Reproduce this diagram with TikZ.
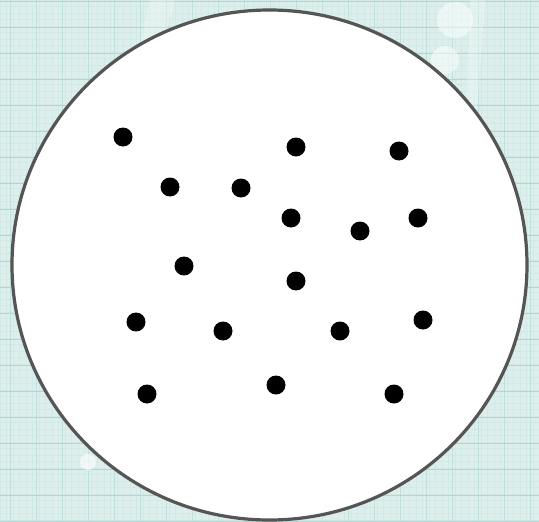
\documentclass[tikz,border=0pt]{standalone}
\definecolor{bgteal}{HTML}{DCEFEC}
\definecolor{gridteal}{HTML}{AFD8D2}
\definecolor{finegrid}{HTML}{D2E9E6}
\definecolor{rim}{HTML}{555555}
\tikzset{
  dot/.style={circle, fill=black, draw=none, minimum size=19pt, inner sep=0pt},
  rimline/.style={draw=rim, line width=3.2pt, fill=white}
}
\begin{document}
\begin{tikzpicture}[x=1pt,y=-1pt]
\useasboundingbox (0,0) rectangle (539,522);
\fill[bgteal] (0,0) rectangle (539,522);
\foreach \k in {0,...,83} {
  \draw[finegrid, line width=0.3pt] (\k*6.5,0) -- (\k*6.5,522);
  \draw[finegrid, line width=0.3pt] (0,\k*6.5) -- (539,\k*6.5);
}
\foreach \k in {0,...,20} {
  \draw[gridteal, line width=0.7pt] (0,\k*26+1) -- (539,\k*26+1);
  \draw[gridteal, line width=0.4pt, opacity=0.6] (\k*26+10,0) -- (\k*26+10,522);
}
% soft highlights
\fill[white, opacity=0.5] (455,20) circle (18);
\fill[white, opacity=0.5] (445,60) circle (14);
\fill[white, opacity=0.6] (88,462) circle (8);
\fill[white, opacity=0.25] (150,0) -- (175,0) -- (95,300) -- (85,300) -- cycle;
\fill[white, opacity=0.25] (470,0) -- (485,0) -- (475,140) -- (465,140) -- cycle;
\draw[rimline] (269.5,265) ellipse (257.5 and 255);
\node[dot] (d1) at (123,137) {};
\node[dot] (d2) at (296,147) {};
\node[dot] (d3) at (399,151) {};
\node[dot] (d4) at (170,187) {};
\node[dot] (d5) at (241,188) {};
\node[dot] (d6) at (291,218) {};
\node[dot] (d7) at (360,231) {};
\node[dot] (d8) at (418,218) {};
\node[dot] (d9) at (184,266) {};
\node[dot] (d10) at (296,281) {};
\node[dot] (d11) at (136,322) {};
\node[dot] (d12) at (223,331) {};
\node[dot] (d13) at (340,331) {};
\node[dot] (d14) at (423,320) {};
\node[dot] (d15) at (147,394) {};
\node[dot] (d16) at (276,385) {};
\node[dot] (d17) at (394,394) {};
\end{tikzpicture}
\end{document}
